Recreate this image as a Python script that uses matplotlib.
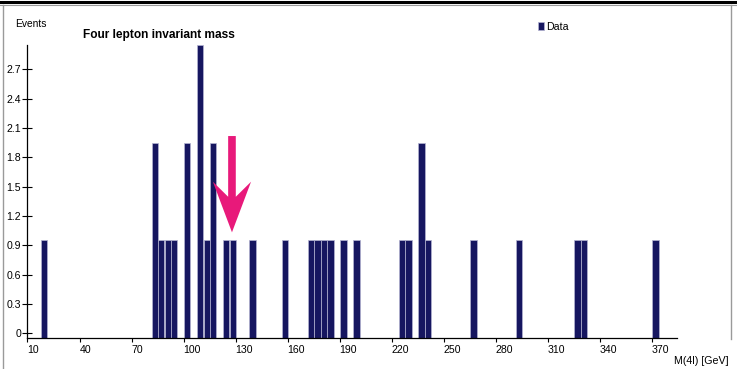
import numpy as np
import matplotlib
matplotlib.use("Agg")
import matplotlib.pyplot as plt
from matplotlib.patches import Polygon
from matplotlib.lines import Line2D

plt.rcParams["font.family"] = ["Liberation Sans", "DejaVu Sans"]

# four lepton invariant mass, bin centres in GeV and counts per bin
mass_bins = [19.6, 83.4, 87.1, 90.9, 94.6, 102.1, 109.6, 113.4, 117.1, 124.6,
             128.4, 139.6, 158.4, 173.4, 177.1, 180.9, 184.6, 192.1, 199.6,
             225.9, 229.6, 237.1, 240.9, 267.1, 293.4, 327.1, 330.9, 372.1]
events = [1, 2, 1, 1, 1, 2, 3, 1, 2, 1,
          1, 1, 1, 1, 1, 1, 1, 1, 1,
          1, 1, 2, 1, 1, 1, 1, 1, 1]
bin_width = 3.75

x_ticks = [10, 40, 70, 100, 130, 160, 190, 220, 250, 280, 310, 340, 370]
y_ticks = [0, 0.3, 0.6, 0.9, 1.2, 1.5, 1.8, 2.1, 2.4, 2.7]
y_labels = ["0", "0.3", "0.6", "0.9", "1.2", "1.5", "1.8", "2.1", "2.4", "2.7"]

bar_color = "#161660"
arrow_color = "#e8197a"

fig = plt.figure(figsize=(7.37, 3.69), dpi=100)
ax = fig.add_axes([0.0373, 0.084, 0.8813, 0.794])

ax.bar(mass_bins, events, width=bin_width, color=bar_color,
       edgecolor="#b4b4d2", linewidth=0.5, label="Data")

ax.set_xlim(10, 384.5)
ax.set_ylim(0, 3.0)

ax.set_xticks(x_ticks)
ax.set_xticklabels([str(t) for t in x_ticks], ha="left")
ax.tick_params(axis="x", direction="out", length=3, width=0.8, labelsize=7.6,
               pad=2)
# the y tick marks sit slightly above the bar baseline
ax.set_yticks(np.array(y_ticks) + 0.05)
ax.set_yticklabels(y_labels)
ax.tick_params(axis="y", direction="inout", length=7, width=0.8,
               labelsize=7.6, pad=1)

for side in ["top", "right"]:
    ax.spines[side].set_visible(False)
for side in ["left", "bottom"]:
    ax.spines[side].set_linewidth(0.9)

fig.text(15 / 737, 1 - 24 / 369, "Events", fontsize=7.4, va="center",
         ha="left")
fig.text(83 / 737, 1 - 35 / 369, "Four lepton invariant mass", fontsize=8.6,
         fontweight="bold", va="center", ha="left")
fig.text(674 / 737, 1 - 361 / 369, "M(4l) [GeV]", fontsize=7.7, va="center",
         ha="left")

ax.legend(loc="upper left", bbox_to_anchor=(0.777, 1.097), frameon=False,
          fontsize=7.7, handlelength=0.65, handleheight=0.8, handletextpad=0.2,
          borderpad=0)

# pink arrow pointing at the Higgs region
tip_x, tip_y = 127.9, 1.082
shaft_half, wing_half = 2.2, 11.0
pts = [(tip_x - shaft_half, 2.068), (tip_x + shaft_half, 2.068),
       (tip_x + shaft_half, 1.446), (tip_x + wing_half, 1.600),
       (tip_x, tip_y), (tip_x - wing_half, 1.600),
       (tip_x - shaft_half, 1.446)]
ax.add_patch(Polygon(pts, closed=True, color=arrow_color, lw=0, zorder=5))

# page frame lines
fig.add_artist(Line2D([0, 1], [1 - 1.5 / 369] * 2, color="black", lw=2.2))
fig.add_artist(Line2D([0, 1], [1 - 5 / 369] * 2, color="#9a9a9a", lw=0.8))
fig.add_artist(Line2D([3 / 737] * 2, [0, 1 - 5 / 369], color="#9a9a9a", lw=1))
fig.add_artist(Line2D([731 / 737] * 2, [0.08, 1 - 5 / 369], color="#9a9a9a",
                      lw=1))

fig.savefig("out.png", dpi=100)
